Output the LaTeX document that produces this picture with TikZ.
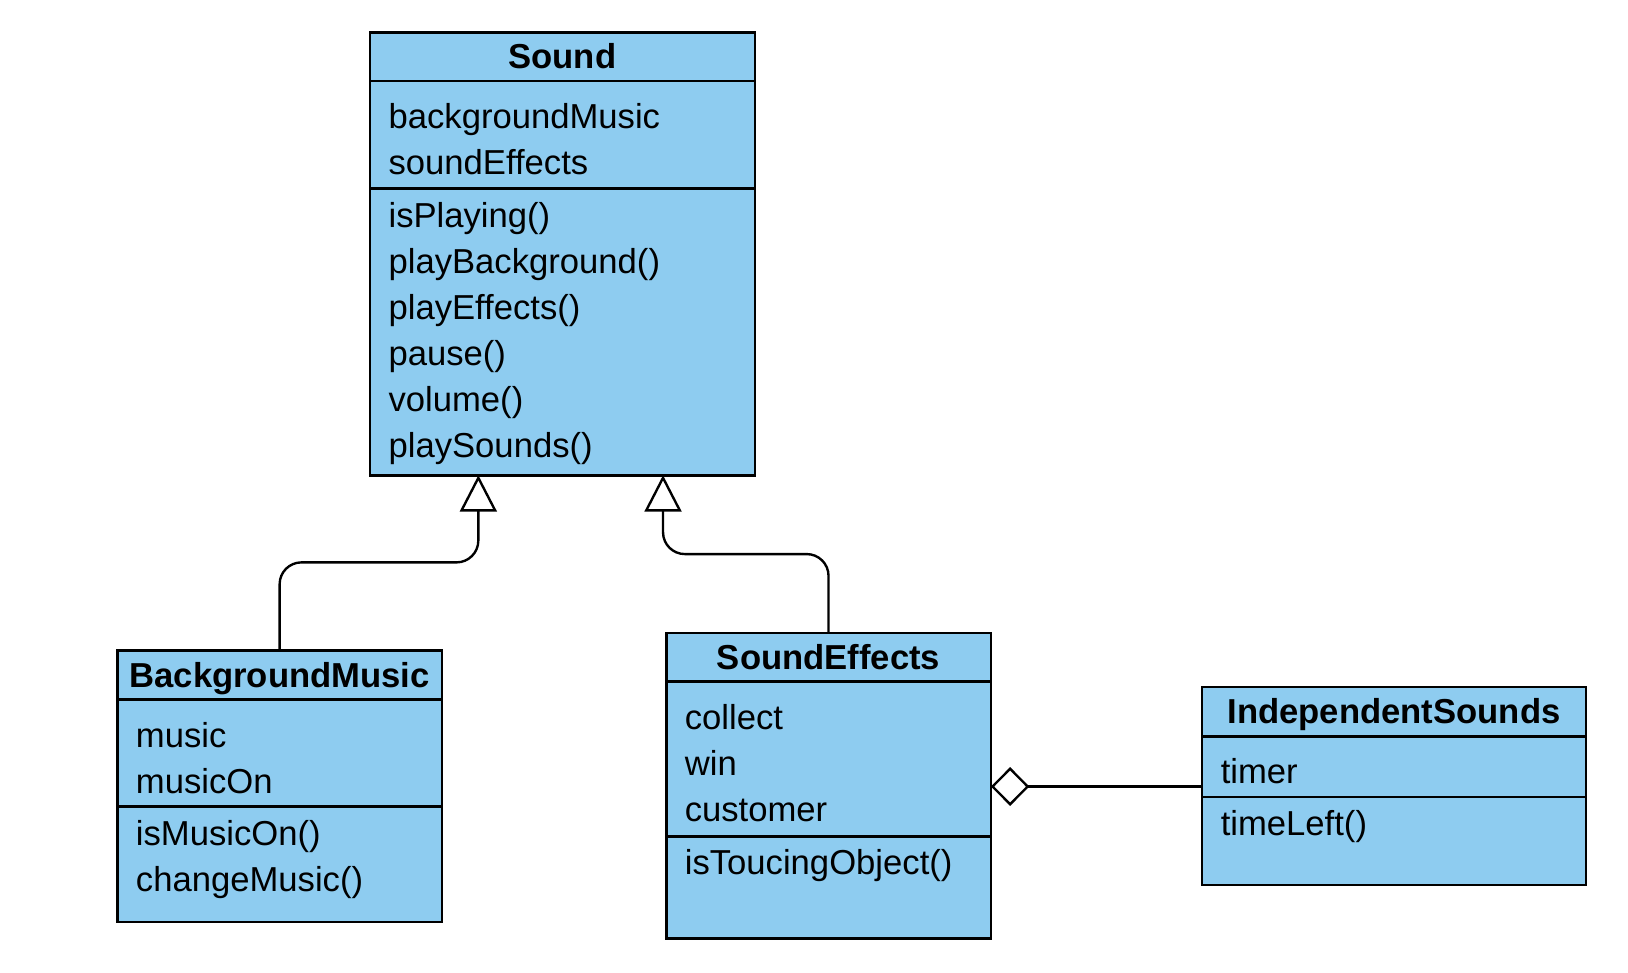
\documentclass[tikz,border=0pt]{standalone}
\usepackage{fontspec}
\setmainfont{Liberation Sans}
\usetikzlibrary{positioning, arrows.meta}
\definecolor{classblue}{RGB}{142,204,240}

\begin{document}
\begin{tikzpicture}[
        node distance=0pt,
        % --- Styles ---
        classhead/.style={rectangle, draw=black, fill=classblue, line width=1.5pt, inner sep=0pt, outer sep=0pt, text height=13.6pt, text depth=0pt, align=center, font=\fontsize{19}{25.3}\selectfont\bfseries},
        compart/.style={rectangle, draw=black, fill=classblue, line width=1.5pt, inner xsep=0.36cm, inner ysep=0pt, outer sep=0pt, align=left, font=\fontsize{19}{25.3}\selectfont},
        attrs/.style={compart, text height=0.92cm},
        methods/.style={compart, text height=0.74cm},
        % --- Line Styles ---
        inherit/.style={draw, -{Triangle[open, length=0.7cm, width=0.71cm]}, line width=1.3pt, rounded corners=0.42cm},
        aggregate/.style={draw, {Diamond[open, length=0.74cm, width=0.75cm]}-, line width=1.3pt}
    ]
        \useasboundingbox (0,0) rectangle (31.38,-18.74);

        % --- Sound ---
        \node[classhead, minimum width=7.42cm, minimum height=0.94cm, anchor=north west] (soundhead) at (7.13,-0.62) {Sound};
        \node[attrs, text width=6.70cm, text depth=1.16cm, below=of soundhead] (soundattr) {backgroundMusic\\soundEffects};
        \node[methods, text width=6.70cm, text depth=4.78cm, below=of soundattr] (soundmeth) {isPlaying()\\playBackground()\\playEffects()\\pause()\\volume()\\playSounds()};

        % --- BackgroundMusic ---
        \node[classhead, minimum width=6.26cm, minimum height=0.94cm, anchor=north west] (bmhead) at (2.26,-12.54) {BackgroundMusic};
        \node[attrs, text width=5.54cm, text depth=1.15cm, below=of bmhead] (bmattr) {music\\musicOn};
        \node[methods, text width=5.54cm, text depth=1.48cm, below=of bmattr] (bmmeth) {isMusicOn()\\changeMusic()};

        % --- SoundEffects ---
        \node[classhead, minimum width=6.26cm, minimum height=0.94cm, anchor=north west] (sehead) at (12.84,-12.20) {SoundEffects};
        \node[attrs, text width=5.54cm, text depth=2.06cm, below=of sehead] (seattr) {collect\\win\\customer};
        \node[methods, text width=5.54cm, text depth=1.23cm, below=of seattr] (semeth) {isToucingObject()};

        % --- IndependentSounds ---
        \node[classhead, minimum width=7.40cm, minimum height=0.95cm, anchor=north west] (ishead) at (23.17,-13.24) {IndependentSounds};
        \node[attrs, text width=6.68cm, text depth=0.25cm, below=of ishead] (isattr) {timer};
        \node[methods, text width=6.68cm, text depth=0.96cm, below=of isattr] (ismeth) {timeLeft()};

        % --- Inheritance ---
        \draw[inherit] (bmhead.north) -- ++(0,1.70) -| ([xshift=-1.62cm]soundmeth.south);
        \draw[inherit] (sehead.north) -- ++(0,1.52) -| ([xshift=1.94cm]soundmeth.south);

        % --- Aggregation ---
        \draw[aggregate] ([yshift=-0.53cm]seattr.east) -- ([yshift=-0.385cm]isattr.west);

    \end{tikzpicture}
\end{document}
